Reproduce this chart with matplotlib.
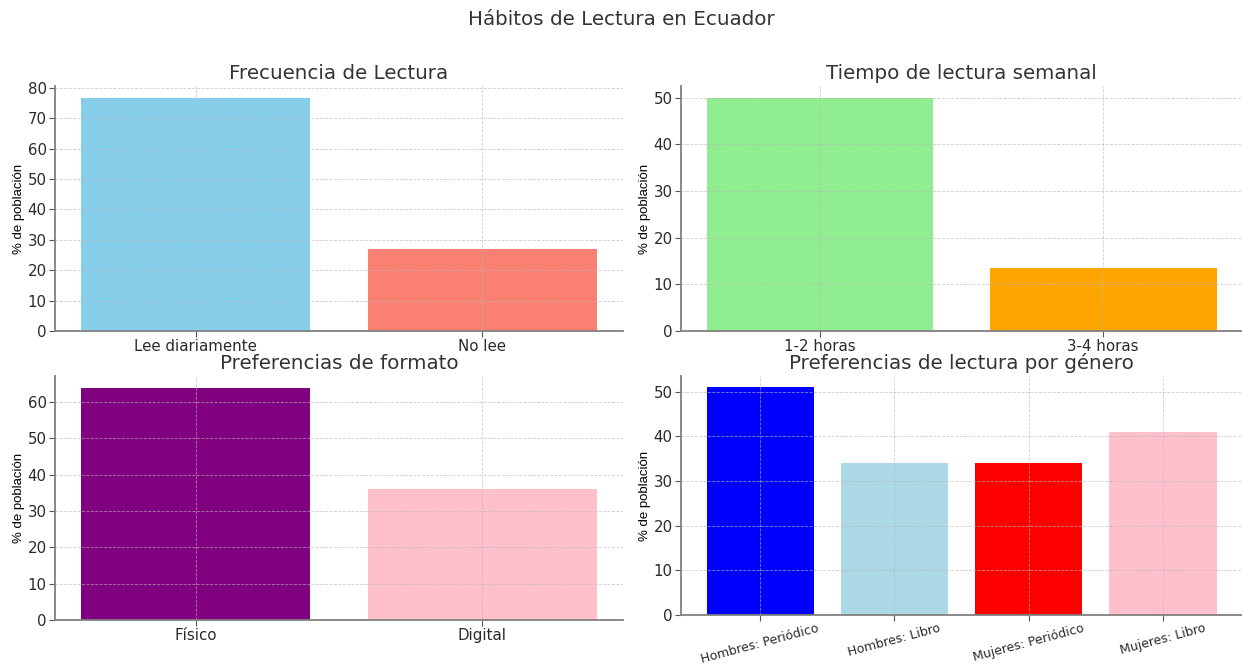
import matplotlib
matplotlib.use('Agg')
import matplotlib.pyplot as plt
from matplotlib.ticker import MultipleLocator

# Datos de la encuesta
frecuencia_cats = ['Lee diariamente', 'No lee']
frecuencia_vals = [76.8, 27]
frecuencia_cols = ['skyblue', 'salmon']

tiempo_cats = ['1-2 horas', '3-4 horas']
tiempo_vals = [50, 13.5]
tiempo_cols = ['lightgreen', 'orange']

formato_cats = ['Físico', 'Digital']
formato_vals = [64, 36]
formato_cols = ['purple', 'pink']

genero_cats = ['Hombres: Periódico', 'Hombres: Libro', 'Mujeres: Periódico', 'Mujeres: Libro']
genero_vals = [51, 34, 34, 41]
genero_cols = ['blue', 'lightblue', 'red', 'pink']

plt.rcParams['font.family'] = ['DejaVu Sans']
plt.rcParams['text.color'] = '#333333'
plt.rcParams['xtick.color'] = '#555555'
plt.rcParams['ytick.color'] = '#555555'
plt.rcParams['xtick.labelcolor'] = '#2a2a2a'
plt.rcParams['ytick.labelcolor'] = '#2a2a2a'

fig = plt.figure(figsize=(12.42, 6.64), dpi=100)
W, H = 1242, 664


def axes_px(x0, x1, top, bottom):
    # caja en pixeles -> fracciones de figura
    return fig.add_axes([x0 / W, (H - bottom) / H, (x1 - x0) / W, (bottom - top) / H])


ax1 = axes_px(55, 623, 86, 331)
ax2 = axes_px(681, 1242, 86, 331)
ax3 = axes_px(55, 623, 376, 620)
ax4 = axes_px(681, 1242, 376, 615)

fig.suptitle('Hábitos de Lectura en Ecuador', fontsize=14.3, y=0.985)


def draw(ax, cats, vals, cols, title, rot=0):
    ax.bar(cats, vals, color=cols, width=0.8, zorder=1)
    ax.set_title(title, fontsize=14.3, pad=5)
    ax.set_ylabel('% de población', fontsize=9.5, family='Liberation Sans', labelpad=2)
    ax.yaxis.set_major_locator(MultipleLocator(10))
    ax.grid(True, linestyle='--', linewidth=0.6, color='#b8b8b8', alpha=0.7, zorder=2)
    ax.set_axisbelow(False)
    for s in ['top', 'right']:
        ax.spines[s].set_visible(False)
    for s in ['left', 'bottom']:
        ax.spines[s].set_color('#808080')
        ax.spines[s].set_linewidth(1.3)
        ax.spines[s].set_zorder(3)
    ax.tick_params(labelsize=10.8, length=4, pad=2)
    if rot:
        ax.tick_params(axis='x', labelsize=9, labelrotation=rot, pad=1)
        for lbl in ax.get_xticklabels():
            lbl.set_ha('center')


draw(ax1, frecuencia_cats, frecuencia_vals, frecuencia_cols, 'Frecuencia de Lectura')
draw(ax2, tiempo_cats, tiempo_vals, tiempo_cols, 'Tiempo de lectura semanal')
draw(ax3, formato_cats, formato_vals, formato_cols, 'Preferencias de formato')
draw(ax4, genero_cats, genero_vals, genero_cols, 'Preferencias de lectura por género', rot=15)

fig.savefig('out.png', dpi=100)
